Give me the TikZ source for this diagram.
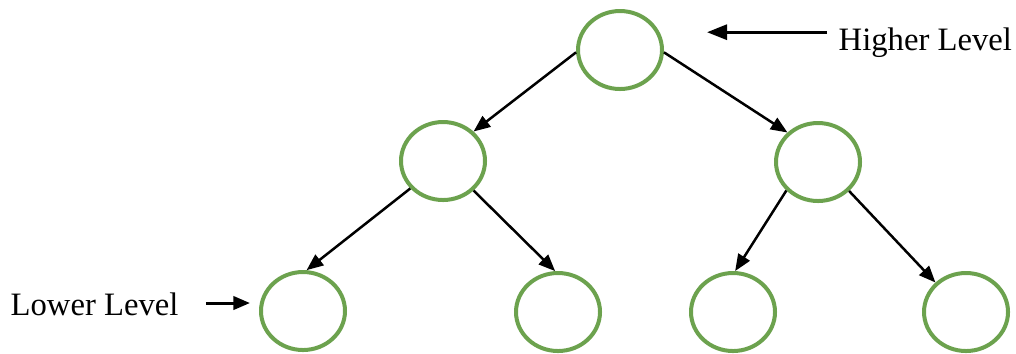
\documentclass[tikz,border=0pt]{standalone}
\usepackage{fontspec}
\setmainfont{Liberation Serif}
\usetikzlibrary{shapes.geometric,arrows.meta}

\begin{document}
\begin{tikzpicture}[x=0.3pt,y=-0.3pt,
    vertex/.style={ellipse, draw=leafgreen, line width=1.2pt, minimum width=25.2pt, minimum height=23.4pt, inner sep=0pt},
    edge/.style={-{Triangle[length=5pt,width=4pt]}, line width=0.75pt},
    lbl/.style={anchor=base west, inner sep=0pt, font=\fontsize{9.8}{12}\selectfont}]
  \definecolor{leafgreen}{RGB}{108,162,78}
  \useasboundingbox (0,0) rectangle (1016,353);
  \node[vertex] (top) at (620,50) {};
  \node[vertex] (ml) at (443,161) {};
  \node[vertex] (mr) at (818,162) {};
  \node[vertex] (b1) at (303,311) {};
  \node[vertex] (b2) at (558,312) {};
  \node[vertex] (b3) at (733,312) {};
  \node[vertex] (b4) at (966,312) {};
  \draw [edge] (top.183) -- (ml.44);
  \draw [edge] (top.357) -- (mr.136);
  \draw [edge] (ml.220) -- (b1.85);
  \draw [edge] (ml.316) -- (b2.94);
  \draw [edge] (mr.222) -- (b3.87);
  \draw [edge] (mr.317) -- (b4.136);
  \node[lbl] (higher) at (838,50) {Higher Level};
  \node[lbl] (lower) at (10,315) {Lower Level};
  \draw [edge, line width=0.9pt, -{Triangle[length=6pt,width=4.5pt]}, shorten <=3.3pt, shorten >=12.9pt] ([yshift=3pt]higher.west) -- ([yshift=3pt]higher.west -| top.east);
  \draw [edge, line width=0.9pt, shorten <=8pt, shorten >=2.7pt] ([yshift=3.6pt]lower.base east) -- ([yshift=3.6pt]lower.base east -| b1.west);
\end{tikzpicture}
\end{document}
